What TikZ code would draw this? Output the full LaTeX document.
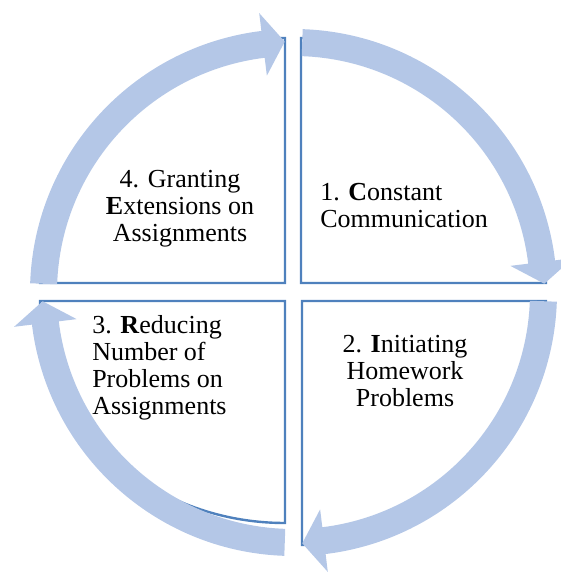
\documentclass[tikz,border=0pt]{standalone}
\usepackage{fontspec}
\setmainfont{Liberation Serif}
\usepackage{xcolor}
\definecolor{ringblue}{RGB}{180,199,231}
\definecolor{edgeblue}{RGB}{79,129,189}
\tikzset{
    quadrant/.style={draw=edgeblue, line width=1.8pt, fill=white},
    ringarrow/.style={fill=ringblue},
    quadtext/.style={inner sep=0pt, font=\fontsize{19.5}{20.25}\selectfont}
}

\begin{document}
\begin{tikzpicture}[x=0.75pt, y=0.75pt]
    \useasboundingbox (0,0) rectangle (561,572);
    \coordinate (ctr) at (293.5,279.5);
    % Quadrants
    \draw[quadrant] (301,289) -- (301,534) arc[start angle=90, end angle=0, radius=245] -- cycle;
    \draw[quadrant] (302,271) -- (546,271) arc[start angle=0, end angle=-90, radius=244] -- cycle;
    \draw[quadrant] (285,271) -- (285,49) arc[start angle=-90, end angle=-180, x radius=245, y radius=222] -- cycle;
    \draw[quadrant] (285,289) -- (40,289) arc[start angle=180, end angle=90, radius=245] -- cycle;
    % Cycle arrows
    \begin{scope}[shift={(ctr)}]
        \fill[ringarrow] (88:263.5) arc[start angle=88, end angle=7, radius=263.5] -- (7:281.5) -- (2:251) -- (7:218.5) -- (7:236.5) arc[start angle=7, end angle=88, radius=236.5] -- cycle;
        \fill[ringarrow] (-2:263.5) arc[start angle=-2, end angle=-83, radius=263.5] -- (-83:281.5) -- (-88:251) -- (-83:218.5) -- (-83:236.5) arc[start angle=-83, end angle=-2, radius=236.5] -- cycle;
        \fill[ringarrow] (-92:263.5) arc[start angle=-92, end angle=-173, radius=263.5] -- (-173:281.5) -- (-178:251) -- (-173:218.5) -- (-173:236.5) arc[start angle=-173, end angle=-92, radius=236.5] -- cycle;
        \fill[ringarrow] (178:263.5) arc[start angle=178, end angle=97, radius=263.5] -- (97:281.5) -- (92:251) -- (97:218.5) -- (97:236.5) arc[start angle=97, end angle=178, radius=236.5] -- cycle;
    \end{scope}
    % Steps
    \node[quadtext, align=left, anchor=west] (q1) at (320,366) {1. \textbf{C}onstant\\Communication};
    \node[quadtext, align=center] (q2) at (405,201) {2. \textbf{I}nitiating\\Homework\\Problems};
    \node[quadtext, align=left, anchor=west] (q3) at (92,204) {3. \textbf{R}educing\\Number of\\Problems on\\Assignments};
    \node[quadtext, align=center] (q4) at (180,363) {4. Granting\\\textbf{E}xtensions on\\Assignments};
\end{tikzpicture}
\end{document}
